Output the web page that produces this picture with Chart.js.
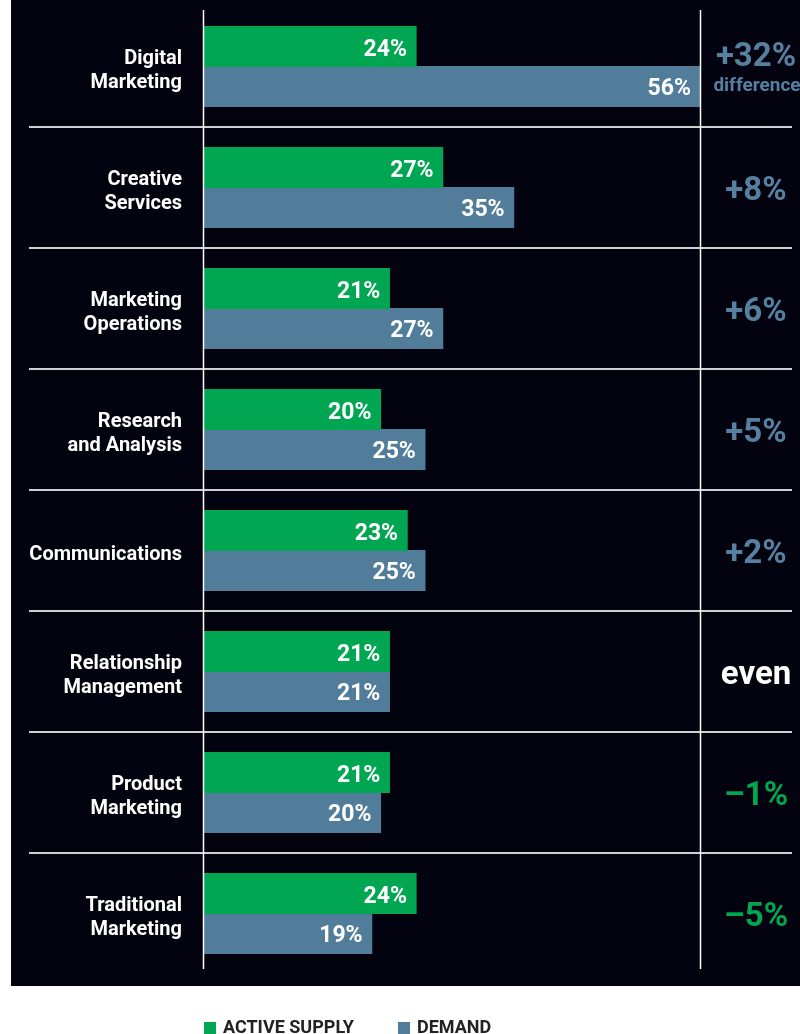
<!DOCTYPE html>
<html>
<head>
<meta charset="utf-8">
<script src="https://cdn.jsdelivr.net/npm/chart.js@4"></script>
<style>
  html, body { margin: 0; padding: 0; background: #ffffff; }
  #wrap { position: relative; width: 800px; height: 1034px; overflow: hidden; }
  #bg { position: absolute; left: 11px; top: 0; width: 789px; height: 986px; background: #03030f; }
  #chart { position: absolute; left: 0; top: 0; }
  .legend { position: absolute; top: 1016px; font: bold 18px Roboto, sans-serif; color: #222; white-space: nowrap; }
  .legend span { display: inline-block; width: 12px; height: 12px; margin-right: 7px; vertical-align: -1px; }
</style>
</head>
<body>
<div id="wrap">
  <div id="bg"></div>
  <canvas id="chart" width="800" height="1034"></canvas>
  <div class="legend" style="left:204px"><span style="background:#00a651"></span>ACTIVE SUPPLY</div>
  <div class="legend" style="left:398px"><span style="background:#517d9a"></span>DEMAND</div>
</div>
<script>
// dados
const categorias = [
    ['Digital', 'Marketing'],
    ['Creative', 'Services'],
    ['Marketing', 'Operations'],
    ['Research', 'and Analysis'],
    ['Communications'],
    ['Relationship', 'Management'],
    ['Product', 'Marketing'],
    ['Traditional', 'Marketing']
];
const activeSupply = [24, 27, 21, 20, 23, 21, 21, 24];
const demand = [56, 35, 27, 25, 25, 21, 20, 19];
const xMax = 56;

const corVerde = '#00a651';
const corAzul = '#517d9a';
const corAzulTexto = '#56809f';

function textoDiferenca(i) {
    const d = demand[i] - activeSupply[i];
    if (d > 0) return { txt: '+' + d + '%', cor: corAzulTexto };
    if (d < 0) return { txt: '\u2013' + Math.abs(d) + '%', cor: corVerde };
    return { txt: 'even', cor: '#ffffff' };
}

const desenhos = {
    id: 'desenhos',
    afterDatasetsDraw(chart) {
        const ctx = chart.ctx;
        const area = chart.chartArea;
        const x = chart.scales.x;
        const y = chart.scales.y;
        ctx.save();

        // separadores horizontais
        ctx.strokeStyle = '#d0d0d4';
        ctx.lineWidth = 2;
        for (let i = 0; i < categorias.length - 1; i++) {
            const yy = Math.round((y.getPixelForValue(i) + y.getPixelForValue(i + 1)) / 2);
            ctx.beginPath();
            ctx.moveTo(29, yy);
            ctx.lineTo(792, yy);
            ctx.stroke();
        }

        // linhas verticais
        ctx.strokeStyle = '#ffffff';
        ctx.lineWidth = 1.5;
        [0, xMax].forEach(v => {
            const xx = Math.round(x.getPixelForValue(v)) + 0.5;
            ctx.beginPath();
            ctx.moveTo(xx, area.top + 4);
            ctx.lineTo(xx, area.bottom - 5);
            ctx.stroke();
        });

        // rotulos das categorias
        ctx.fillStyle = '#ffffff';
        ctx.font = 'bold 20px Roboto, sans-serif';
        ctx.textAlign = 'right';
        ctx.textBaseline = 'alphabetic';
        categorias.forEach((linhas, i) => {
            const cy = y.getPixelForValue(i);
            linhas.forEach((l, k) => {
                ctx.fillText(l, 182, cy + 9 + (k - (linhas.length - 1) / 2) * 24);
            });
        });

        // valores dentro das barras
        ctx.font = 'bold 23px Roboto, sans-serif';
        chart.data.datasets.forEach((ds, di) => {
            chart.getDatasetMeta(di).data.forEach((bar, i) => {
                ctx.fillText(ds.data[i] + '%', bar.x - 9, bar.y + 9);
            });
        });

        // diferencas
        ctx.textAlign = 'center';
        categorias.forEach((_, i) => {
            const cy = y.getPixelForValue(i);
            const d = textoDiferenca(i);
            ctx.fillStyle = d.cor;
            ctx.font = 'bold 33px Roboto, sans-serif';
            if (i === 0) {
                ctx.fillText(d.txt, 756, cy - 1);
                ctx.font = 'bold 19px Roboto, sans-serif';
                ctx.fillText('difference', 757, cy + 24);
            } else {
                ctx.fillText(d.txt, 756, cy + 12);
            }
        });
        ctx.restore();
    }
};

new Chart(document.getElementById('chart'), {
    type: 'bar',
    data: {
        labels: categorias.map(c => c.join(' ')),
        datasets: [
            { label: 'ACTIVE SUPPLY', data: activeSupply, backgroundColor: corVerde, inflateAmount: 0.6 },
            { label: 'DEMAND', data: demand, backgroundColor: corAzul, inflateAmount: 0.6 }
        ]
    },
    options: {
        indexAxis: 'y',
        responsive: false,
        animation: false,
        layout: { padding: { left: 203, right: 100, top: 6, bottom: 60 } },
        datasets: { bar: { barPercentage: 1, categoryPercentage: 0.66 } },
        scales: {
            x: { display: false, min: 0, max: xMax },
            y: { display: false }
        },
        plugins: {
            legend: { display: false },
            tooltip: { enabled: false }
        }
    },
    plugins: [desenhos]
});
</script>
</body>
</html>
